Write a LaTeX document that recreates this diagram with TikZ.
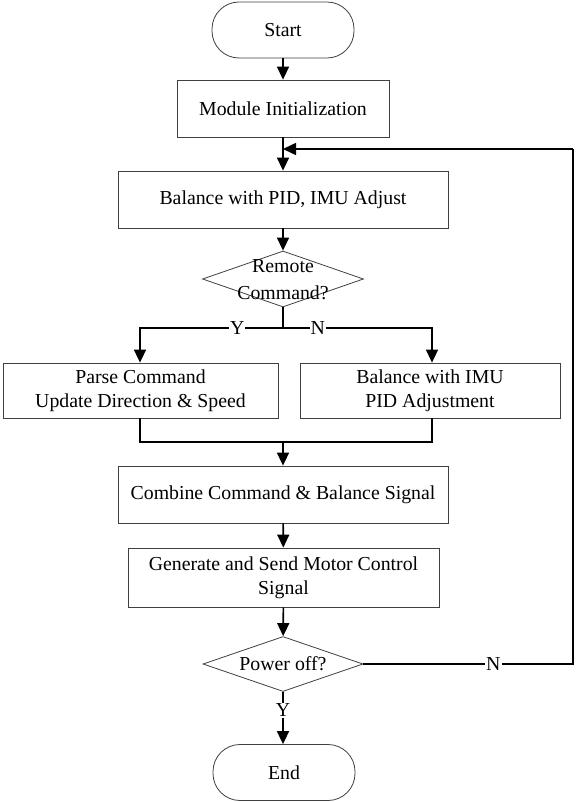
\documentclass[tikz,border=0pt]{standalone}
\usepackage{fontspec}
\setmainfont{Liberation Serif}
\usetikzlibrary{arrows.meta,shapes.geometric}
\begin{document}
\begin{tikzpicture}[x=1pt,y=-1pt,
  every node/.style={font=\fontsize{19.8}{24}\selectfont},
  procbox/.style={draw=black!75,line width=0.8pt,rectangle,inner sep=0pt,align=center},
  termbox/.style={draw=black!75,line width=0.8pt,rectangle,rounded corners=27pt,inner sep=0pt,minimum width=142pt,minimum height=56pt},
  decbox/.style={draw=black!75,line width=0.8pt,diamond,inner sep=0pt},
  arr/.style={line width=1.6pt,-{Triangle[length=13pt,width=12pt]}},
  conn/.style={line width=1.6pt},
  lbl/.style={fill=white,inner sep=1pt}]
\useasboundingbox (0,0) rectangle (576,802);
\fill[white] (0,0) rectangle (576,802);
\node[termbox] (start) at (283,30) {Start};
\node[procbox,minimum width=212pt,minimum height=57pt] (init) at (283,108.5) {Module Initialization};
\node[procbox,minimum width=330pt,minimum height=57pt] (bal) at (283,199.5) {Balance with PID, IMU Adjust};
\node[decbox,minimum width=161pt,minimum height=56pt] (rem) at (283,279) {};
\node (remtxt) at (283,280) [align=center,font=\fontsize{19.8}{27}\selectfont] {Remote\\Command?};
\node[procbox,minimum width=275pt,minimum height=55pt] (parse) at (140.5,390.5) {Parse Command\\Update Direction \& Speed};
\node[procbox,minimum width=260pt,minimum height=55pt] (imu) at (430,390.5) {Balance with IMU\\PID Adjustment};
\node[procbox,minimum width=330pt,minimum height=57pt] (comb) at (283,494.5) {Combine Command \& Balance Signal};
\node[procbox,minimum width=311pt,minimum height=59pt] (gen) at (283.5,577.5) {Generate and Send Motor Control\\Signal};
\node[decbox,minimum width=160pt,minimum height=55pt] (pwr) at (283,664) {};
\node (pwrtxt) at (283,664) {Power off?};
\node[termbox] (end) at (284,772.5) {End};

\coordinate (br) at (283,328);
\coordinate (mg) at (283,442);
\coordinate (rt) at (573,664);
\coordinate (tp) at (573,149);
\coordinate (fb) at (283,149);

\draw[arr] (start) -- (init);
\draw[arr] (init) -- (bal);
\draw[arr] (bal) -- (rem);
\draw[conn] (rem.south) -- (br);
\draw[arr] (br) -| node[lbl,pos=0.16] {Y} (parse.north -| 140,0);
\draw[arr] (br) -| node[lbl,pos=0.117] {N} (imu.north -| 432,0);
\draw[conn] (parse.south -| 140,0) |- (mg) -| (imu.south -| 432,0);
\draw[arr] (mg) -- (comb);
\draw[arr] (comb) -- (gen);
\draw[arr] (gen) -- (pwr);
\draw[arr] (pwr.south) -- node[lbl,pos=0.35] {Y} (end.north -| pwr.south);
\draw[conn] (pwr.east) -- node[lbl,pos=0.62] {N} (rt) -- (tp);
\draw[arr] (tp) -- (fb);
\end{tikzpicture}
\end{document}
